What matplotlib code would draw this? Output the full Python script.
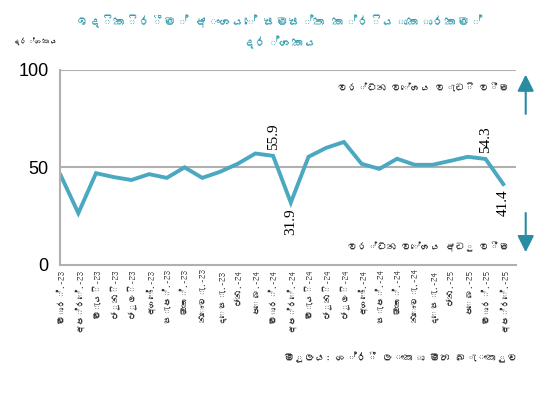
import matplotlib
matplotlib.use('Agg')
import matplotlib.pyplot as plt
from matplotlib import font_manager
from matplotlib.ft2font import FT2Font

# look for an installed font that has Sinhala glyphs
sinhala_font = None
for path in font_manager.findSystemFonts():
    try:
        if ord('ක') in FT2Font(path).get_charmap():
            sinhala_font = font_manager.FontProperties(fname=path).get_name()
            break
    except Exception:
        pass
fams = ([sinhala_font] if sinhala_font else []) + ['DejaVu Sans']
plt.rcParams['font.family'] = fams


def si(s):
    # matplotlib has no shaping, the zero width joiner would show as a box
    return s.replace('\u200d', '')


labels = ['මාර්.-23', 'අප්‍රේ.-23', 'මැයි-23', 'ජූනි-23', 'ජූලි-23', 'අගෝ.-23',
          'සැප්.-23', 'ඔක්.-23', 'නොවැ.-23', 'දෙසැ.-23', 'ජන.-24', 'පෙබ.-24',
          'මාර්.-24', 'අප්‍රේ.-24', 'මැයි-24', 'ජූනි-24', 'ජූලි-24', 'අගෝ.-24',
          'සැප්.-24', 'ඔක්.-24', 'නොවැ.-24', 'දෙසැ.-24', 'ජන.-25', 'පෙබ.-25',
          'මාර්.-25', 'අප්‍රේ.-25']
values = [46.0, 26.5, 47.0, 45.0, 43.5, 46.5, 44.6, 50.0, 44.6, 47.7, 51.8, 57.1,
          55.9, 31.9, 55.4, 60.0, 63.0, 51.8, 49.2, 54.4, 51.3, 51.3, 53.3, 55.4,
          54.3, 41.4]
# labelled points: index -> above/below
annot = {12: 'up', 13: 'down', 24: 'up', 25: 'down'}

teal = '#4aa9c1'
x = list(range(len(values)))

fig = plt.figure(figsize=(5.48, 3.97), dpi=100)
ax = fig.add_axes([0.109, 0.333, 0.832, 0.491])

ax.plot(x, values, color=teal, lw=2.8, solid_joinstyle='miter')
ax.set_xlim(-0.05, len(values) - 0.3)
ax.set_ylim(0, 100)
ax.set_yticks([0, 50, 100])
ax.axhline(50, color='#b0b0b0', lw=1.5, zorder=0)
ax.axhline(100, color='#b0b0b0', lw=1.5, zorder=0)
for s in ['top', 'right']:
    ax.spines[s].set_visible(False)
for s in ['left', 'bottom']:
    ax.spines[s].set_color('#b0b0b0')
    ax.spines[s].set_linewidth(1.5)
ax.tick_params(axis='y', length=0, labelsize=13, pad=8)
ax.tick_params(axis='x', length=0, pad=3)
for lab in ax.get_yticklabels():
    lab.set_fontfamily(['Liberation Sans'])
ax.set_xticks(x)
ax.set_xticklabels([si(l) for l in labels], rotation=90, fontsize=6.5,
                   color='#333333')

for i, pos in annot.items():
    if pos == 'up':
        ax.annotate(f'{values[i]:.1f}', (x[i], values[i]), xytext=(0, 4),
                    textcoords='offset points', rotation=90, ha='center',
                    va='bottom', fontsize=11, family='Liberation Serif')
    else:
        ax.annotate(f'{values[i]:.1f}', (x[i], values[i]), xytext=(0, -4),
                    textcoords='offset points', rotation=90, ha='center',
                    va='top', fontsize=11, family='Liberation Serif')

# growth direction arrows on the right
ax.annotate('', xy=(1.022, 0.99), xytext=(1.022, 0.76), xycoords='axes fraction',
            arrowprops=dict(arrowstyle='-|>,head_width=0.5,head_length=1.0',
                            color='#2a8ca3', lw=1.5), annotation_clip=False)
ax.annotate('', xy=(1.022, 0.05), xytext=(1.022, 0.28), xycoords='axes fraction',
            arrowprops=dict(arrowstyle='-|>,head_width=0.5,head_length=1.0',
                            color='#2a8ca3', lw=1.5), annotation_clip=False)
ax.text(0.985, 0.91, si('වර්ධන වේගය වැඩි වීම'), transform=ax.transAxes,
        ha='right', va='center', fontsize=7, color='#333333')
ax.text(0.985, 0.09, si('වර්ධන වේගය අඩු වීම'), transform=ax.transAxes,
        ha='right', va='center', fontsize=7, color='#333333')

fig.text(0.51, 0.92, si('ඉදිකිරීම් අංශයේ සමස්ත ක්‍රියාකාරකම්\nදර්ශකය'),
         ha='center', va='center', fontsize=9, color='#3a9eae',
         fontweight='bold', linespacing=1.6)
fig.text(0.065, 0.895, si('දර්ශකය'), ha='center', va='center', fontsize=5.5,
         color='#333333')
fig.text(0.945, 0.10, si('මූලය: ශ්‍රී ලංකා මහ බැංකුව'), ha='right', va='center',
         fontsize=7.5, color='#333333')

fig.savefig('out.png', dpi=100)
